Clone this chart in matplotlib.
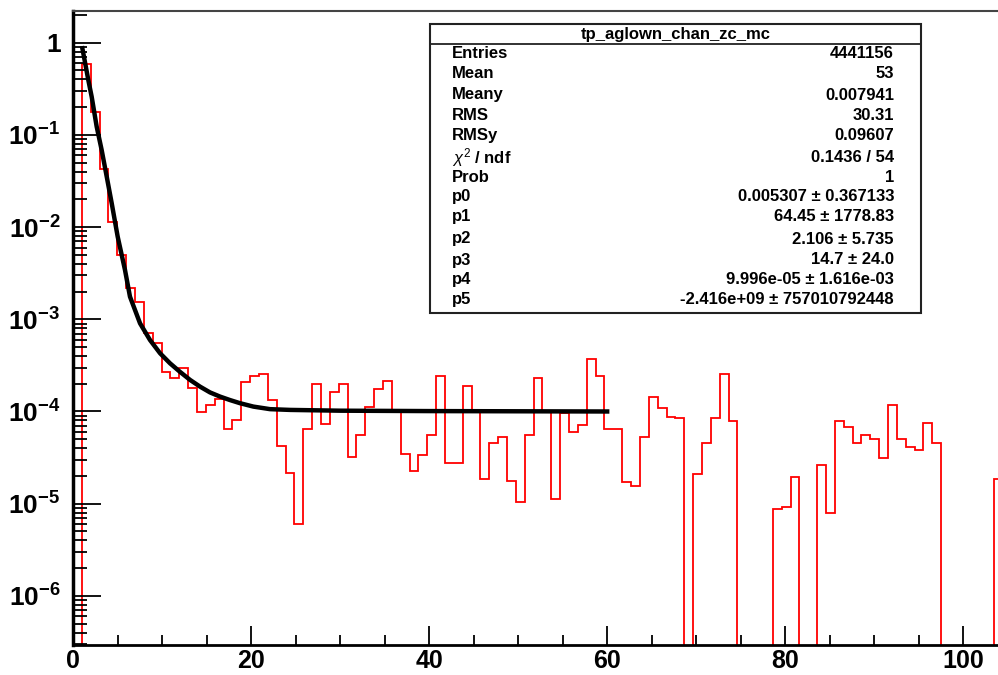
import numpy as np
import matplotlib
matplotlib.use("Agg")
import matplotlib.pyplot as plt
from matplotlib.ticker import MultipleLocator, LogLocator, FixedLocator, FixedFormatter, NullFormatter
from matplotlib.patches import Rectangle
from matplotlib.lines import Line2D

plt.rcParams['font.family'] = ['Liberation Sans', 'DejaVu Sans']
plt.rcParams['mathtext.fontset'] = 'custom'
plt.rcParams['mathtext.rm'] = 'Liberation Sans'
plt.rcParams['mathtext.bf'] = 'Liberation Sans:bold'
plt.rcParams['mathtext.it'] = 'Liberation Sans:italic'

# histogram contents, one value per bin (bin 0 .. bin 104)
counts = [
    0, 0.587, 0.179, 0.0425, 0.0114, 0.0050, 0.0022, 0.00155, 7.05e-4, 5.5e-4,
    2.70e-4, 2.29e-4, 2.99e-4, 1.78e-4, 9.95e-5, 1.18e-4, 1.35e-4, 6.46e-5, 8.09e-5, 2.11e-4,
    2.43e-4, 2.55e-4, 1.33e-4, 4.26e-5, 2.17e-5, 5.97e-6, 6.41e-5, 1.97e-4, 7.32e-5, 1.64e-4,
    1.99e-4, 3.18e-5, 5.56e-5, 1.13e-4, 1.74e-4, 2.14e-4, 9.95e-5, 3.49e-5, 2.28e-5, 3.35e-5,
    5.52e-5, 2.43e-4, 2.79e-5, 2.79e-5, 1.88e-4, 1.0e-4, 1.85e-5, 4.52e-5, 5.33e-5, 1.78e-5,
    1.03e-5, 5.52e-5, 2.31e-4, 1.0e-4, 1.12e-5, 9.7e-5, 6.0e-5, 7.08e-5, 3.68e-4, 2.43e-4,
    6.41e-5, 6.41e-5, 1.71e-5, 1.57e-5, 5.33e-5, 1.45e-4, 1.08e-4, 8.79e-5, 8.43e-5, 0,
    2.10e-5, 4.52e-5, 8.43e-5, 2.55e-4, 7.88e-5, 0, 0, 0, 0, 8.77e-6,
    9.14e-6, 1.96e-5, 0, 0, 2.63e-5, 7.98e-6, 7.88e-5, 6.84e-5, 4.52e-5, 5.56e-5,
    4.99e-5, 3.10e-5, 1.18e-4, 4.99e-5, 4.09e-5, 3.82e-5, 7.45e-5, 4.52e-5, 0, 0,
    0, 0, 0, 0, 1.85e-5,
]
bin_width = 0.995

# fitted function
fit_x = [1.05, 1.16, 1.72, 2.10, 2.66, 3.22, 3.79, 4.35, 5.02, 5.84, 6.40, 7.53, 8.65, 9.78,
         10.9, 12.0, 13.15, 14.27, 15.39, 16.52, 17.64, 18.76, 20.26, 22.13, 24.4, 30, 40, 60]
fit_y = [0.871, 0.767, 0.394, 0.259, 0.123, 0.0686, 0.0352, 0.0181, 0.00787, 0.00343, 0.00176,
         9.04e-4, 5.96e-4, 4.28e-4, 3.33e-4, 2.70e-4, 2.20e-4, 1.86e-4, 1.61e-4, 1.45e-4,
         1.33e-4, 1.23e-4, 1.13e-4, 1.06e-4, 1.04e-4, 1.02e-4, 1.01e-4, 1.0e-4]

stat_labels = ["Entries", "Mean", "Meany", "RMS", "RMSy", r"$\chi^{2}$ / ndf", "Prob",
               "p0", "p1", "p2", "p3", "p4", "p5"]
stat_values = ["4441156", "53", "0.007941", "30.31", "0.09607", "0.1436 / 54", "1",
               "0.005307 \u00b1 0.367133", "64.45 \u00b1 1778.83", "2.106 \u00b1 5.735",
               "14.7 \u00b1 24.0", "9.996e-05 \u00b1 1.616e-03", "-2.416e+09 \u00b1 757010792448"]
stat_rows_px = [53.3, 73.3, 95, 115, 135.7, 157.7, 177.3, 196.7, 216.7, 239, 260, 280, 299.3]
hist_title = "tp_aglown_chan_zc_mc"

W, H = 998, 675
fig = plt.figure(figsize=(W / 100, H / 100), dpi=100)
ax = fig.add_axes([73 / W, 1 - 645 / H, 1 - 73 / W, (645 - 11) / H])

edges = np.arange(len(counts) + 1) * bin_width
vals = np.array(counts, dtype=float)
vals = np.where(vals > 0, vals, 1e-12)
ax.stairs(vals, edges, color="red", lw=1.3, baseline=None)
ax.plot(fit_x, fit_y, color="black", lw=3.2, solid_joinstyle="round")

ax.set_yscale("log")
ax.set_xlim(0, 103.9)
ax.set_ylim(2.93e-7, 2.21)

ax.xaxis.set_major_locator(MultipleLocator(20))
ax.xaxis.set_minor_locator(MultipleLocator(5))
decades = [1e-6, 1e-5, 1e-4, 1e-3, 1e-2, 1e-1, 1]
ax.yaxis.set_major_locator(FixedLocator(decades))
ax.yaxis.set_major_formatter(FixedFormatter([r"$\mathbf{10^{-6}}$", r"$\mathbf{10^{-5}}$",
                                             r"$\mathbf{10^{-4}}$", r"$\mathbf{10^{-3}}$",
                                             r"$\mathbf{10^{-2}}$", r"$\mathbf{10^{-1}}$", "1"]))
ax.yaxis.set_minor_locator(LogLocator(base=10, subs=np.arange(2, 10), numticks=20))
ax.yaxis.set_minor_formatter(NullFormatter())

ax.tick_params(axis="x", which="major", direction="in", length=14, width=1.3, pad=3,
               labelsize=18, top=False)
ax.tick_params(axis="x", which="minor", direction="in", length=7, width=1.3, top=False)
ax.tick_params(axis="y", which="major", direction="in", length=20, width=1.3, pad=9,
               labelsize=19, right=False)
ax.tick_params(axis="y", which="minor", direction="in", length=10, width=1.3, right=False)
for lab in ax.get_xticklabels() + ax.get_yticklabels():
    lab.set_fontweight("bold")

ax.spines["right"].set_visible(False)
ax.spines["left"].set_linewidth(2.5)
ax.spines["bottom"].set_linewidth(2.0)
ax.spines["top"].set_linewidth(1.5)
ax.spines["top"].set_color("#444444")


def fx(px):
    return px / W


def fy(py):
    return 1 - py / H


# stats box
box_l, box_r, box_t, box_b = 430, 920.7, 24.3, 312.7
fig.patches.append(Rectangle((fx(box_l), fy(box_b)), fx(box_r) - fx(box_l), fy(box_t) - fy(box_b),
                             transform=fig.transFigure, facecolor="white", edgecolor="#222222",
                             lw=1.5, zorder=5))
fig.lines.append(Line2D([fx(box_l), fx(box_r)], [fy(44.3), fy(44.3)], transform=fig.transFigure,
                        color="#222222", lw=1.3, zorder=6))
fig.text(fx((box_l + box_r) / 2), fy(35), hist_title, ha="center", va="center",
         fontsize=12, fontweight="bold", zorder=7)
for lab, val, py in zip(stat_labels, stat_values, stat_rows_px):
    fig.text(fx(452), fy(py), lab, ha="left", va="center", fontsize=12, fontweight="bold", zorder=7)
    fig.text(fx(894), fy(py), val, ha="right", va="center", fontsize=12, fontweight="bold", zorder=7)

fig.savefig("out.png", dpi=100)
